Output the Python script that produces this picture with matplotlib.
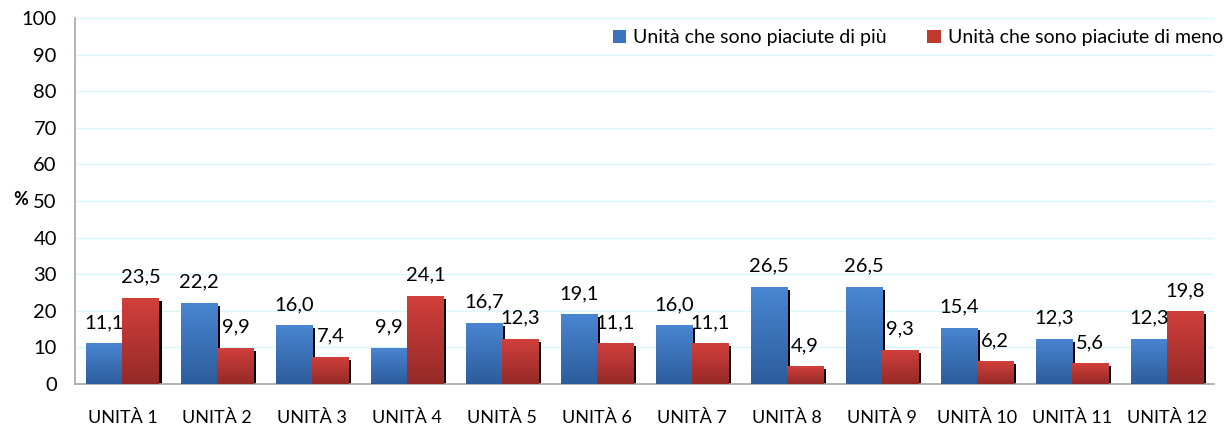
import matplotlib
matplotlib.use("Agg")
import matplotlib.pyplot as plt
import numpy as np
from matplotlib.colors import LinearSegmentedColormap

plt.rcParams['font.family'] = ['Lato', 'DejaVu Sans']

categories = ["UNITÀ 1", "UNITÀ 2", "UNITÀ 3", "UNITÀ 4", "UNITÀ 5", "UNITÀ 6",
              "UNITÀ 7", "UNITÀ 8", "UNITÀ 9", "UNITÀ 10", "UNITÀ 11", "UNITÀ 12"]
piu = [11.1, 22.2, 16.0, 9.9, 16.7, 19.1, 16.0, 26.5, 26.5, 15.4, 12.3, 12.3]
meno = [23.5, 9.9, 7.4, 24.1, 12.3, 11.1, 11.1, 4.9, 9.3, 6.2, 5.6, 19.8]
series_names = ["Unità che sono piaciute di più", "Unità che sono piaciute di meno"]

fig = plt.figure(figsize=(12.28, 4.28), dpi=100)
ax = fig.add_axes([0.061, 0.103, 0.928, 0.855])

x = np.arange(len(categories))
w = 0.38
blue_cmap = LinearSegmentedColormap.from_list("b", ["#2c5c9c", "#4a86d2"])
red_cmap = LinearSegmentedColormap.from_list("r", ["#952927", "#d2403c"])

def grad_bars(xs, hs, cmap, color, label):
    bars = ax.bar(xs, hs, w, color=color, label=label, zorder=3)
    ax.bar(xs + 0.032, np.maximum(np.array(hs) - 0.8, 0), w, bottom=0,
           color="black", zorder=2)
    grad = np.linspace(0, 1, 256).reshape(-1, 1)
    for b in bars:
        bx, by = b.get_x(), b.get_y()
        bw, bh = b.get_width(), b.get_height()
        im = ax.imshow(grad, extent=[bx, bx + bw, by, by + bh], origin="lower",
                       cmap=cmap, aspect="auto", zorder=4)
        im.set_clip_path(b)
    return bars

grad_bars(x - w / 2, piu, blue_cmap, "#3b74bd", series_names[0])
grad_bars(x + w / 2, meno, red_cmap, "#c0392f", series_names[1])

NUM_FS = 14.5
for xs, vals in ((x - w / 2, piu), (x + w / 2, meno)):
    for xi, v in zip(xs, vals):
        ax.text(xi, v + 3.3, f"{v:.1f}".replace(".", ","), ha="center", va="bottom",
                fontsize=NUM_FS, color="black", zorder=6)

ax.set_xlim(-0.5, len(categories) - 0.5)
ax.set_ylim(0, 100)
ax.set_yticks(np.arange(0, 101, 10))
ax.set_xticks(x)
ax.set_xticklabels(categories, fontsize=13)
ax.tick_params(axis="y", labelsize=NUM_FS, length=0, pad=13)
ax.tick_params(axis="x", length=0, pad=19)
ax.grid(axis="y", color="#d6f8fa", linewidth=1, zorder=0)
ax.set_axisbelow(True)
for s in ["top", "right"]:
    ax.spines[s].set_visible(False)
ax.spines["left"].set_color("#a6a6a6")
ax.spines["bottom"].set_color("#a6a6a6")
ax.spines["left"].set_linewidth(1.2)
ax.spines["bottom"].set_linewidth(1.2)

ax.text(-0.048, 0.505, "%", transform=ax.transAxes, ha="center", va="center",
        fontsize=13, fontweight="bold")

leg = fig.legend(loc="center right", bbox_to_anchor=(1.0, 0.912),
                 bbox_transform=fig.transFigure, frameon=True,
                 fontsize=14, handlelength=0.7, handleheight=0.7,
                 handletextpad=0.35, columnspacing=2.1, ncol=2,
                 borderaxespad=0.0, borderpad=0.25)
leg.get_frame().set_edgecolor("white")
leg.get_frame().set_facecolor("white")
leg.get_frame().set_alpha(1)
leg.set_zorder(10)

fig.savefig("out.png", dpi=100)
